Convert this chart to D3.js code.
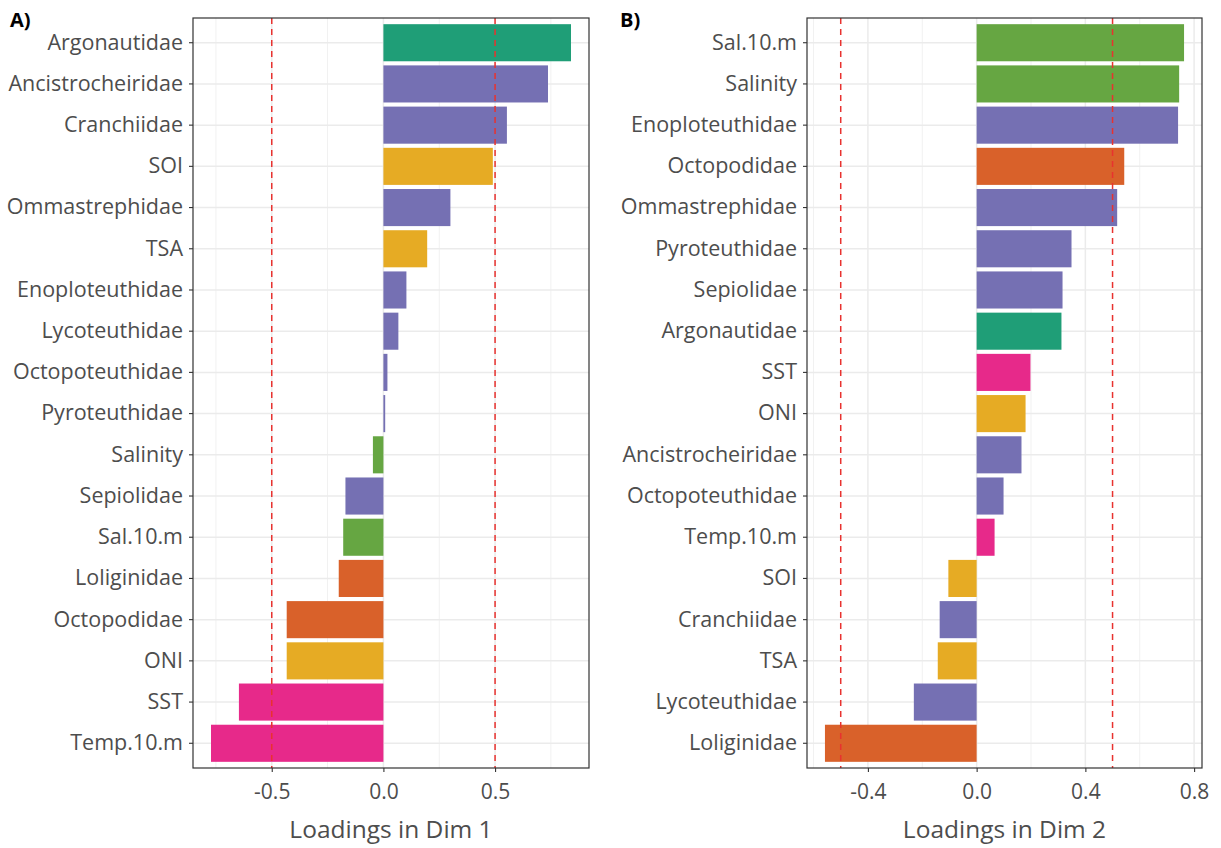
<!DOCTYPE html>
<html lang="en">
  <head>
    <meta charset="utf-8" />
    <title>loadings</title>
    <script src="https://d3js.org/d3.v7.min.js"></script>
    <style>
      body { margin: 0; padding: 0; background: #fff; }
      svg { display: block; }
      text { font-family: "Open Sans", sans-serif; }
      .tick-label { fill: #4d4d4d; font-size: 21.5px; }
      .x-label { fill: #4d4d4d; font-size: 21px; }
      .axis-title { fill: #4d4d4d; font-size: 24.5px; }
      .panel-tag { fill: #000; font-size: 20px; font-weight: bold; }
    </style>
  </head>
  <body>
    <svg id="chart" width="1221" height="848"></svg>

    <script>
      // panel A: loadings in Dim 1 (top to bottom)
      var catsA = ["Argonautidae", "Ancistrocheiridae", "Cranchiidae", "SOI", "Ommastrephidae", "TSA",
        "Enoploteuthidae", "Lycoteuthidae", "Octopoteuthidae", "Pyroteuthidae", "Salinity", "Sepiolidae",
        "Sal.10.m", "Loliginidae", "Octopodidae", "ONI", "SST", "Temp.10.m"];
      var valsA = [0.84, 0.737, 0.553, 0.49, 0.30, 0.196, 0.103, 0.067, 0.018, 0.008, -0.047, -0.17,
        -0.18, -0.20, -0.433, -0.433, -0.647, -0.772];
      var groupsA = ["argo", "squid", "squid", "climate", "squid", "climate", "squid", "squid", "squid",
        "squid", "salt", "squid", "salt", "orange", "orange", "climate", "temp", "temp"];
      var ticksA = [-0.5, 0.0, 0.5];
      var minorA = [-0.75, -0.25, 0.25, 0.75];

      // panel B: loadings in Dim 2
      var catsB = ["Sal.10.m", "Salinity", "Enoploteuthidae", "Octopodidae", "Ommastrephidae", "Pyroteuthidae",
        "Sepiolidae", "Argonautidae", "SST", "ONI", "Ancistrocheiridae", "Octopoteuthidae", "Temp.10.m",
        "SOI", "Cranchiidae", "TSA", "Lycoteuthidae", "Loliginidae"];
      var valsB = [0.763, 0.745, 0.741, 0.543, 0.517, 0.349, 0.316, 0.312, 0.198, 0.18, 0.165, 0.099,
        0.066, -0.104, -0.136, -0.143, -0.231, -0.558];
      var groupsB = ["salt", "salt", "squid", "orange", "squid", "squid", "squid", "argo", "temp", "climate",
        "squid", "squid", "temp", "climate", "squid", "climate", "squid", "orange"];
      var ticksB = [-0.4, 0.0, 0.4, 0.8];
      var minorB = [-0.6, -0.2, 0.2, 0.6];

      var cutoff = [-0.5, 0.5];

      var color = d3.scaleOrdinal()
        .domain(["argo", "squid", "climate", "salt", "orange", "temp"])
        .range(["#1f9e77", "#7570b3", "#e6ab24", "#66a642", "#d9612a", "#e7298a"]);

      var svg = d3.select("#chart");
      var plotTop = 18, plotBottom = 768;
      var fmt = function(d) { return d3.format(".1f")(d).replace("\u2212", "-"); };

      drawPanel({ tag: "A)", tagX: 10, left: 193, right: 589, cats: catsA, vals: valsA, groups: groupsA,
        ticks: ticksA, minor: minorA, title: "Loadings in Dim 1" });
      drawPanel({ tag: "B)", tagX: 620, left: 807, right: 1202, cats: catsB, vals: valsB, groups: groupsB,
        ticks: ticksB, minor: minorB, title: "Loadings in Dim 2" });

      function drawPanel(p) {
        var ext = d3.extent(p.vals.concat([0]));
        var pad = (ext[1] - ext[0]) * 0.05;
        var x = d3.scaleLinear().domain([ext[0] - pad, ext[1] + pad]).range([p.left, p.right]);
        var y = d3.scaleBand().domain(p.cats).range([plotTop, plotBottom])
          .paddingInner(0.1).paddingOuter(0.15);

        var g = svg.append("g");

        // grid
        g.selectAll(".gx-minor").data(p.minor).enter().append("line")
          .attr("x1", function(d) { return x(d); }).attr("x2", function(d) { return x(d); })
          .attr("y1", plotTop).attr("y2", plotBottom)
          .attr("stroke", "#f1f1f1").attr("stroke-width", 1);
        g.selectAll(".gx").data(p.ticks).enter().append("line")
          .attr("x1", function(d) { return x(d); }).attr("x2", function(d) { return x(d); })
          .attr("y1", plotTop).attr("y2", plotBottom)
          .attr("stroke", "#ebebeb").attr("stroke-width", 1.5);
        g.selectAll(".gy").data(p.cats).enter().append("line")
          .attr("x1", p.left).attr("x2", p.right)
          .attr("y1", function(d) { return y(d) + y.bandwidth() / 2; })
          .attr("y2", function(d) { return y(d) + y.bandwidth() / 2; })
          .attr("stroke", "#ebebeb").attr("stroke-width", 1.5);

        // bars
        g.selectAll("rect.bar").data(p.cats).enter().append("rect")
          .attr("class", "bar")
          .attr("x", function(d, i) { return x(Math.min(0, p.vals[i])); })
          .attr("width", function(d, i) { return Math.abs(x(p.vals[i]) - x(0)); })
          .attr("y", function(d) { return y(d); })
          .attr("height", y.bandwidth())
          .attr("fill", function(d, i) { return color(p.groups[i]); });

        // cutoff lines
        g.selectAll(".cut").data(cutoff).enter().append("line")
          .attr("x1", function(d) { return x(d); }).attr("x2", function(d) { return x(d); })
          .attr("y1", plotTop).attr("y2", plotBottom)
          .attr("stroke", "#e8322f").attr("stroke-width", 1.5)
          .attr("stroke-dasharray", "6,5");

        // frame
        g.append("rect")
          .attr("x", p.left).attr("y", plotTop)
          .attr("width", p.right - p.left).attr("height", plotBottom - plotTop)
          .attr("fill", "none").attr("stroke", "#333").attr("stroke-width", 1.2);

        // y axis
        var ya = g.append("g").attr("transform", "translate(" + p.left + ",0)")
          .call(d3.axisLeft(y).tickSize(4).tickPadding(6));
        ya.select(".domain").remove();
        ya.selectAll("line").attr("stroke", "#333").attr("stroke-width", 1.1);
        ya.selectAll("text").attr("class", "tick-label").attr("fill", null);

        // x axis
        var xa = g.append("g").attr("transform", "translate(0," + plotBottom + ")")
          .call(d3.axisBottom(x).tickValues(p.ticks).tickFormat(fmt).tickSize(4).tickPadding(8));
        xa.select(".domain").remove();
        xa.selectAll("line").attr("stroke", "#333").attr("stroke-width", 1.1);
        xa.selectAll("text").attr("class", "x-label").attr("fill", null).attr("dy", "0.9em");
        ya.attr("font-size", null).attr("font-family", null);
        xa.attr("font-size", null).attr("font-family", null);

        g.append("text").attr("class", "axis-title")
          .attr("x", (p.left + p.right) / 2).attr("y", 838)
          .attr("text-anchor", "middle").text(p.title);

        g.append("text").attr("class", "panel-tag")
          .attr("x", p.tagX).attr("y", 27).text(p.tag);
      }
    </script>
  </body>
</html>
